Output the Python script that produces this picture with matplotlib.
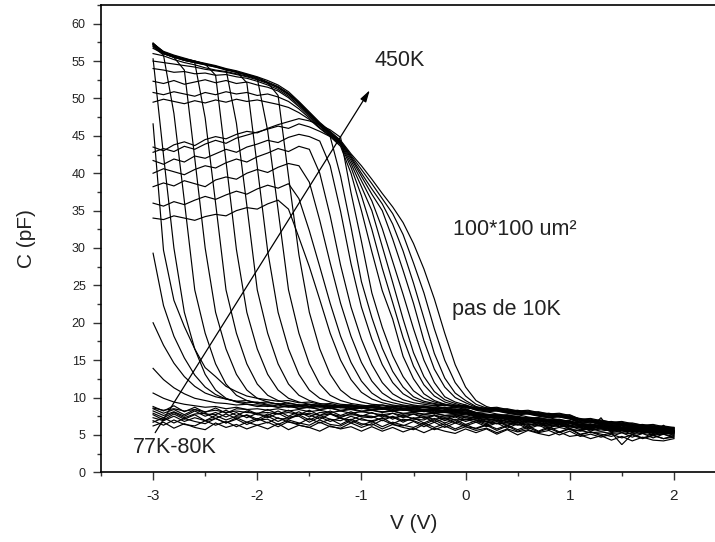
import matplotlib
matplotlib.use("Agg")
import matplotlib.pyplot as plt
from matplotlib.ticker import MultipleLocator

plt.rcParams['font.family'] = ['Liberation Sans', 'DejaVu Sans']

# tension de balayage (V)
volts = [-3.0, -2.9, -2.8, -2.7, -2.6, -2.5, -2.4, -2.3, -2.2, -2.1, -2.0,
         -1.9, -1.8, -1.7, -1.6, -1.5, -1.4, -1.3, -1.2, -1.1, -1.0,
         -0.9, -0.8, -0.7, -0.6, -0.5, -0.4, -0.3, -0.2, -0.1, 0.0,
         0.1, 0.2, 0.3, 0.4, 0.5, 0.6, 0.7, 0.8, 0.9, 1.0,
         1.1, 1.2, 1.3, 1.4, 1.5, 1.6, 1.7, 1.8, 1.9, 2.0]

# basses temperatures : courbes plates (pF)
cold_1 = [6.2, 6.7, 5.9, 6.5, 6.0, 5.7, 6.6, 6.0, 6.4, 5.8, 6.3,
          5.8, 6.5, 5.7, 6.3, 6.0, 5.5, 6.2, 5.8, 6.1, 5.5,
          6.1, 5.5, 6.0, 5.4, 5.9, 5.3, 5.9, 5.5, 5.2, 5.8,
          5.3, 5.8, 5.1, 5.7, 5.0, 5.6, 5.2, 4.9, 5.4, 4.8,
          5.0, 4.5, 4.9, 4.3, 4.8, 4.2, 4.7, 4.3, 4.2, 4.5]
cold_2 = [6.9, 6.3, 7.0, 6.4, 6.2, 6.9, 6.3, 6.8, 6.1, 6.7, 6.3,
          6.7, 6.1, 6.8, 6.3, 6.0, 6.7, 6.1, 5.9, 6.6, 6.0,
          6.5, 5.8, 6.4, 6.0, 5.7, 6.4, 5.7, 6.2, 5.6, 6.1,
          5.6, 5.9, 5.3, 5.8, 5.4, 5.7, 5.3, 5.6, 5.0, 5.5,
          4.8, 5.1, 4.7, 5.1, 4.6, 5.0, 4.5, 4.9, 4.5, 4.7]
cold_3 = [6.7, 7.3, 6.6, 7.2, 6.8, 6.5, 7.2, 6.6, 7.1, 6.4, 7.0,
          7.1, 6.4, 7.0, 6.6, 6.3, 7.0, 6.4, 6.2, 6.9, 6.3,
          6.8, 6.1, 6.7, 6.3, 6.0, 6.6, 6.0, 6.5, 5.8, 6.4,
          5.8, 6.3, 5.6, 6.2, 5.5, 6.0, 5.4, 5.9, 5.3, 5.8,
          5.0, 5.4, 4.9, 5.3, 3.7, 5.1, 4.6, 5.0, 4.5, 4.9]
cold_4 = [7.3, 6.9, 7.5, 6.8, 7.3, 6.9, 7.2, 6.6, 7.3, 6.7, 7.2,
          6.6, 7.3, 6.7, 6.5, 7.2, 6.6, 7.1, 6.4, 7.1, 6.5,
          6.3, 7.0, 6.4, 6.2, 6.8, 6.1, 6.7, 6.0, 6.6, 6.1,
          5.9, 6.4, 5.8, 6.3, 5.7, 6.2, 5.5, 6.1, 5.4, 5.9,
          5.1, 5.4, 5.1, 4.8, 5.3, 4.7, 5.2, 4.6, 5.1, 4.6]
cold_5 = [7.7, 7.0, 7.8, 7.1, 7.7, 6.9, 7.6, 7.0, 7.5, 7.6, 6.9,
          7.5, 6.8, 7.4, 7.5, 6.7, 7.4, 6.8, 7.3, 6.6, 7.2,
          6.7, 7.3, 6.5, 7.1, 6.9, 6.4, 7.0, 6.3, 6.9, 6.2,
          6.7, 6.1, 6.6, 5.9, 6.5, 5.8, 6.3, 5.7, 6.0, 5.7,
          5.6, 5.3, 5.4, 5.2, 5.3, 5.1, 5.2, 5.0, 5.1, 4.8]
cold_6 = [7.9, 7.3, 8.0, 7.3, 7.8, 7.9, 7.2, 7.8, 7.2, 7.7, 7.1,
          7.8, 7.2, 7.1, 7.7, 7.0, 7.6, 7.1, 6.9, 7.5, 7.0,
          6.9, 7.2, 7.4, 6.7, 7.3, 6.6, 7.2, 6.6, 7.1, 6.4,
          6.9, 6.3, 6.8, 6.2, 6.7, 6.0, 6.5, 5.9, 6.4, 5.8,
          5.5, 5.9, 7.3, 5.3, 5.6, 5.1, 5.6, 5.0, 5.5, 4.9]
cold_7 = [8.2, 7.6, 8.1, 7.5, 8.2, 7.5, 8.0, 7.4, 8.0, 7.3, 7.9,
          7.3, 7.9, 7.2, 7.8, 7.7, 7.1, 7.8, 7.2, 7.0, 7.6,
          7.5, 6.9, 7.5, 6.9, 7.2, 7.4, 6.7, 7.2, 6.6, 7.1,
          7.0, 6.5, 7.0, 6.3, 6.8, 6.2, 6.7, 6.0, 6.5, 5.9,
          6.1, 5.5, 6.0, 5.4, 5.9, 5.3, 5.8, 5.2, 6.3, 5.1]
cold_8 = [8.5, 7.9, 8.4, 7.7, 8.4, 7.8, 7.7, 8.3, 7.6, 8.2, 7.7,
          7.6, 8.2, 7.5, 8.1, 7.4, 8.0, 7.9, 7.3, 7.9, 7.4,
          7.3, 7.8, 7.1, 7.7, 7.1, 7.0, 7.6, 6.9, 7.4, 6.8,
          7.2, 6.7, 6.5, 7.1, 6.4, 6.9, 6.3, 6.8, 6.2, 6.5,
          6.3, 5.7, 6.2, 5.6, 5.9, 5.6, 5.8, 5.5, 5.7, 5.4]
cold_9 = [8.8, 8.2, 8.9, 8.1, 8.7, 8.0, 8.6, 7.9, 8.5, 8.4, 7.8,
          8.4, 7.8, 8.3, 7.7, 8.3, 7.6, 8.2, 7.6, 8.1, 7.5,
          8.0, 7.4, 7.9, 7.3, 7.8, 7.2, 7.7, 7.1, 7.6, 7.0,
          7.4, 6.8, 7.3, 6.7, 7.0, 6.7, 6.9, 6.4, 6.9, 6.3,
          6.4, 5.8, 6.3, 5.7, 6.2, 5.6, 6.1, 5.5, 6.0, 5.4]

# queues de descente visibles a -3 V
tail_1 = [8.6, 8.3, 8.5, 8.2, 8.4, 8.1, 8.3, 8.0, 8.2, 8.0, 7.9,
          8.0, 7.8, 8.0, 7.7, 7.9, 7.6, 7.8, 7.5, 7.7, 7.6,
          7.4, 7.6, 7.3, 7.5, 7.2, 7.4, 7.1, 7.3, 7.0, 7.1,
          6.7, 6.8, 6.5, 6.6, 6.3, 6.5, 6.2, 6.3, 6.1, 6.2,
          5.7, 5.8, 5.5, 5.7, 5.4, 5.5, 5.3, 5.4, 5.2, 5.3]
tail_2 = [10.6, 9.9, 9.4, 9.1, 8.9, 8.7, 8.8, 8.5, 8.7, 8.4, 8.5,
          8.3, 8.5, 8.2, 8.4, 8.1, 8.3, 8.0, 8.2, 7.9, 8.1,
          7.9, 7.7, 7.9, 7.6, 7.8, 7.5, 7.6, 7.4, 7.5, 7.3,
          7.0, 6.8, 6.9, 6.6, 6.7, 6.4, 6.5, 6.3, 6.4, 6.1,
          5.9, 5.7, 5.8, 5.5, 5.6, 5.4, 5.5, 5.3, 5.4, 5.2]
tail_3 = [13.9, 12.4, 11.3, 10.5, 9.9, 9.6, 9.3, 9.2, 9.0, 9.1, 8.8,
          8.9, 8.7, 8.8, 8.6, 8.7, 8.4, 8.6, 8.3, 8.5, 8.2,
          8.3, 8.1, 8.2, 7.9, 8.0, 7.8, 7.9, 7.6, 7.7, 7.5,
          7.2, 7.1, 6.9, 7.0, 6.7, 6.8, 6.6, 6.5, 6.6, 6.3,
          6.1, 5.9, 6.0, 5.7, 5.8, 5.6, 5.7, 5.4, 5.5, 5.3]
tail_4 = [20.0, 17.0, 14.6, 12.8, 11.5, 10.6, 10.1, 9.8, 9.5, 9.6, 9.3,
          9.4, 9.1, 9.3, 9.0, 9.1, 8.8, 9.0, 8.7, 8.9, 8.6,
          8.7, 8.5, 8.6, 8.3, 8.5, 8.2, 8.3, 8.0, 8.1, 7.9,
          7.5, 7.3, 7.4, 7.1, 7.2, 6.9, 7.0, 6.7, 6.8, 6.6,
          6.2, 6.3, 6.0, 6.1, 5.8, 5.9, 5.7, 5.8, 5.5, 5.6]
drop_1 = [29.3, 22.3, 18.2, 15.3, 13.0, 11.4, 10.4, 9.8, 9.5, 9.3, 9.4,
          9.1, 9.2, 8.9, 9.0, 8.8, 8.9, 8.6, 8.8, 8.5, 8.6,
          8.4, 8.5, 8.2, 8.4, 8.1, 8.2, 7.9, 8.0, 7.8, 7.7,
          7.4, 7.2, 7.3, 7.0, 7.1, 6.8, 6.9, 6.7, 6.5, 6.6,
          6.1, 6.2, 5.9, 6.0, 5.8, 5.6, 5.7, 5.5, 5.6, 5.4]
drop_2 = [46.6, 29.7, 23.0, 19.5, 16.5, 14.0, 12.8, 11.5, 10.8, 10.2, 9.9,
          9.7, 9.5, 9.6, 9.3, 9.4, 9.1, 9.2, 8.9, 9.0, 8.8,
          8.9, 8.6, 8.7, 8.5, 8.6, 8.3, 8.4, 8.2, 8.3, 8.0,
          7.7, 7.5, 7.6, 7.3, 7.4, 7.1, 7.2, 6.9, 7.0, 6.7,
          6.4, 6.5, 6.2, 6.3, 6.0, 6.1, 5.8, 5.9, 5.7, 5.8]

# courbes qui suivent l'enveloppe haute puis chutent
env_1 = [55.3, 42.4, 30.0, 21.4, 16.5, 13.1, 11.0, 9.9, 9.4, 9.1, 9.0,
         8.8, 9.0, 8.7, 8.9, 8.6, 8.8, 8.5, 8.7, 8.4, 8.6,
         8.3, 8.5, 8.2, 8.4, 8.1, 8.2, 7.9, 8.1, 7.8, 7.9,
         7.5, 7.3, 7.4, 7.1, 7.2, 6.9, 7.0, 6.7, 6.8, 6.6,
         6.2, 6.0, 6.1, 5.8, 5.9, 5.6, 5.7, 5.5, 5.4, 5.5]
env_2 = [56.9, 55.8, 48.0, 36.3, 24.4, 18.6, 14.5, 11.8, 10.3, 9.6, 9.2,
         9.0, 8.7, 8.9, 8.5, 8.7, 8.4, 8.6, 8.2, 8.4, 8.1,
         8.3, 8.0, 8.2, 7.8, 8.0, 7.7, 7.9, 7.6, 7.7, 7.4,
         7.3, 7.0, 7.1, 6.8, 6.9, 6.6, 6.7, 6.4, 6.5, 6.2,
         6.0, 5.7, 5.8, 5.6, 5.7, 5.4, 5.5, 5.2, 5.3, 5.1]
env_3 = [57.0, 56.0, 55.5, 53.8, 42.0, 30.0, 21.4, 16.5, 13.1, 11.0, 9.9,
         9.4, 9.1, 9.0, 8.8, 9.0, 8.7, 8.9, 8.6, 8.8, 8.5,
         8.7, 8.4, 8.6, 8.3, 8.4, 8.1, 8.3, 8.0, 8.1, 7.8,
         7.7, 7.4, 7.5, 7.2, 7.3, 7.0, 7.1, 6.8, 6.9, 6.6,
         6.4, 6.1, 6.2, 5.9, 6.0, 5.7, 5.8, 5.5, 5.6, 5.4]
env_4 = [57.2, 56.1, 55.6, 55.1, 54.8, 47.4, 36.0, 24.4, 18.6, 14.5, 11.8,
         10.3, 9.6, 9.2, 9.0, 8.8, 9.0, 8.7, 8.9, 8.6, 8.7,
         8.4, 8.6, 8.3, 8.5, 8.2, 8.3, 8.0, 8.2, 7.9, 8.0,
         7.6, 7.4, 7.2, 7.3, 7.0, 7.1, 6.8, 6.9, 6.6, 6.7,
         6.1, 6.2, 5.9, 6.0, 5.7, 5.8, 5.5, 5.6, 5.3, 5.4]
env_5 = [57.3, 56.3, 55.8, 55.4, 55.0, 54.6, 53.1, 41.6, 29.8, 21.4, 16.5,
         13.1, 11.0, 9.9, 9.4, 9.1, 9.0, 8.8, 9.0, 8.7, 8.9,
         8.6, 8.7, 8.4, 8.6, 8.3, 8.4, 8.1, 8.3, 8.0, 8.1,
         7.6, 7.7, 7.4, 7.5, 7.2, 7.3, 7.0, 7.1, 6.8, 6.9,
         6.3, 6.4, 6.1, 6.2, 5.9, 6.0, 5.7, 5.8, 5.5, 5.6]
env_6 = [57.1, 56.0, 55.6, 55.2, 54.9, 54.6, 54.3, 53.9, 46.7, 35.7, 24.4,
         18.6, 14.5, 11.8, 10.3, 9.6, 9.2, 9.0, 8.8, 9.0, 8.7,
         8.9, 8.6, 8.7, 8.4, 8.6, 8.3, 8.4, 8.1, 8.2, 7.9,
         7.5, 7.6, 7.3, 7.4, 7.1, 7.2, 6.9, 7.0, 6.7, 6.8,
         6.2, 6.3, 6.0, 6.1, 5.8, 5.9, 5.6, 5.7, 5.4, 5.5]
env_7 = [57.4, 56.2, 55.7, 55.3, 55.0, 54.6, 54.3, 53.9, 53.6, 52.1, 40.9,
         29.6, 21.4, 16.5, 13.1, 11.0, 9.9, 9.4, 9.1, 9.0, 8.8,
         9.0, 8.7, 8.9, 8.6, 8.7, 8.4, 8.5, 8.2, 8.3, 8.0,
         7.9, 7.6, 7.7, 7.4, 7.5, 7.2, 7.3, 7.0, 7.1, 6.8,
         6.6, 6.3, 6.4, 6.1, 6.2, 5.9, 6.0, 5.7, 5.8, 5.5]
env_8 = [57.2, 56.0, 55.5, 55.1, 54.8, 54.5, 54.2, 53.8, 53.5, 53.1, 52.7,
         45.7, 35.1, 24.4, 18.6, 14.5, 11.8, 10.3, 9.6, 9.2, 9.0,
         8.8, 9.0, 8.7, 8.8, 8.5, 8.7, 8.4, 8.5, 8.2, 8.3,
         7.8, 7.6, 7.7, 7.3, 7.4, 7.1, 7.2, 6.9, 6.8, 6.6,
         6.4, 6.1, 6.2, 5.9, 5.8, 5.6, 5.7, 5.4, 5.3, 5.2]
env_9 = [57.3, 56.1, 55.6, 55.2, 54.9, 54.6, 54.3, 53.9, 53.6, 53.2, 52.8,
         52.1, 50.4, 39.6, 29.1, 21.4, 16.5, 13.1, 11.0, 9.9, 9.4,
         9.1, 9.0, 8.8, 8.9, 8.6, 8.8, 8.5, 8.6, 8.3, 8.4,
         7.9, 7.7, 7.5, 7.6, 7.3, 7.1, 7.2, 6.9, 6.7, 6.8,
         6.2, 6.0, 6.1, 5.8, 5.7, 5.5, 5.6, 5.3, 5.2, 5.1]

# courbes du faisceau intermediaire (plateau bruite 34-47 pF)
band_1 = [34.0, 33.8, 34.3, 34.0, 33.7, 34.2, 34.5, 34.3, 35.0, 35.4, 35.2,
          35.9, 36.4, 35.2, 31.4, 27.5, 23.1, 18.6, 15.0, 12.4, 10.7,
          9.8, 9.3, 9.0, 8.8, 8.9, 8.6, 8.7, 8.4, 8.5, 8.2,
          7.8, 7.6, 7.7, 7.4, 7.2, 7.3, 7.0, 6.8, 6.9, 6.6,
          6.2, 6.0, 6.1, 5.8, 5.9, 5.6, 5.7, 5.5, 5.4, 5.5]
band_2 = [36.0, 35.6, 36.2, 35.8, 36.4, 36.9, 36.5, 37.1, 37.6, 37.2, 37.9,
          38.4, 38.0, 38.6, 36.6, 32.3, 27.5, 22.6, 18.2, 14.7, 12.2,
          10.6, 9.7, 9.3, 9.0, 8.8, 8.9, 8.6, 8.7, 8.4, 8.5,
          8.0, 7.8, 7.6, 7.7, 7.4, 7.2, 7.3, 7.0, 6.8, 6.9,
          6.3, 6.4, 6.1, 5.9, 6.0, 5.7, 5.8, 5.5, 5.6, 5.4]
band_3 = [38.2, 38.7, 38.3, 39.0, 38.6, 38.2, 39.1, 39.5, 39.2, 40.0, 40.5,
          40.1, 40.8, 41.3, 41.0, 38.8, 33.7, 28.0, 22.6, 18.2, 14.7,
          12.2, 10.6, 9.7, 9.3, 9.0, 8.8, 8.9, 8.6, 8.7, 8.4,
          8.0, 8.1, 7.8, 7.6, 7.7, 7.4, 7.2, 7.3, 7.0, 6.8,
          6.6, 6.3, 6.1, 6.2, 5.9, 6.0, 5.7, 5.5, 5.6, 5.4]
band_4 = [40.0, 40.6, 40.2, 39.8, 40.5, 41.0, 40.7, 41.4, 41.9, 41.5, 42.2,
          42.7, 43.3, 42.9, 43.6, 43.2, 40.0, 34.3, 27.7, 22.1, 17.8,
          14.4, 12.0, 10.5, 9.7, 9.3, 9.1, 8.9, 9.0, 8.7, 8.8,
          8.3, 8.1, 8.2, 7.9, 7.7, 7.8, 7.5, 7.3, 7.4, 7.1,
          6.6, 6.7, 6.4, 6.2, 6.3, 6.0, 5.8, 5.9, 5.6, 5.7]
band_5 = [41.7, 41.2, 41.9, 41.5, 42.3, 42.0, 42.6, 43.2, 42.8, 43.5, 43.9,
          44.4, 44.1, 44.8, 45.2, 44.9, 44.3, 41.0, 34.9, 27.9, 22.1,
          17.8, 14.4, 12.0, 10.5, 9.7, 9.3, 9.1, 8.9, 9.0, 8.7,
          8.4, 8.2, 8.3, 8.0, 7.8, 7.9, 7.6, 7.4, 7.5, 7.2,
          6.7, 6.8, 6.5, 6.3, 6.4, 6.1, 5.9, 6.0, 5.7, 5.6]
band_6 = [42.8, 43.3, 42.9, 43.6, 43.2, 43.9, 44.4, 44.0, 44.7, 45.1, 45.5,
          45.9, 46.3, 46.0, 46.6, 46.2, 45.6, 44.9, 39.6, 32.8, 25.5,
          20.7, 16.6, 13.5, 11.4, 10.1, 9.5, 9.2, 9.0, 8.8, 8.9,
          8.4, 8.5, 8.2, 8.0, 8.1, 7.8, 7.6, 7.7, 7.4, 7.2,
          7.0, 6.7, 6.5, 6.6, 6.3, 6.1, 6.2, 5.9, 5.7, 5.8]
band_7 = [43.5, 43.0, 43.8, 44.2, 43.7, 44.5, 44.9, 44.6, 45.2, 45.6, 45.4,
          46.0, 46.5, 46.9, 47.3, 47.0, 46.5, 45.8, 44.8, 37.4, 30.9,
          24.0, 19.4, 15.6, 12.8, 10.9, 9.9, 9.4, 9.1, 8.9, 9.0,
          8.5, 8.6, 8.3, 8.1, 8.2, 7.9, 7.7, 7.8, 7.5, 7.3,
          7.1, 6.8, 6.6, 6.7, 6.4, 6.2, 6.3, 6.0, 5.8, 5.9]

# hautes temperatures : chute entre -1 V et 0 V (top_8 = 450K)
top_1 = [49.5, 49.9, 49.6, 49.3, 49.7, 49.4, 49.8, 49.5, 49.9, 49.6, 49.8,
         49.5, 49.2, 48.8, 48.1, 47.2, 46.0, 44.9, 43.6, 40.0, 35.0,
         29.5, 24.3, 20.5, 15.5, 12.5, 10.5, 9.6, 9.1, 8.8, 8.6,
         8.5, 8.2, 8.3, 8.0, 7.8, 7.9, 7.6, 7.4, 7.5, 7.2,
         6.7, 6.8, 6.5, 6.3, 6.4, 6.1, 5.9, 6.0, 5.7, 5.5]
top_2 = [50.8, 50.5, 50.9, 50.6, 50.3, 50.8, 50.5, 50.9, 50.6, 50.8, 50.4,
         50.6, 50.2, 49.6, 48.6, 47.4, 46.1, 45.0, 43.8, 40.8, 37.0,
         32.5, 27.3, 22.7, 18.0, 14.2, 11.7, 10.2, 9.4, 9.0, 8.7,
         8.6, 8.3, 8.4, 8.1, 7.9, 8.0, 7.7, 7.5, 7.6, 7.3,
         6.8, 6.9, 6.6, 6.4, 6.5, 6.2, 6.0, 6.1, 5.8, 5.6]
top_3 = [52.3, 52.0, 52.4, 51.9, 52.2, 52.5, 52.1, 52.4, 52.0, 52.2, 51.8,
         51.5, 51.0, 50.1, 48.9, 47.6, 46.3, 45.1, 43.9, 41.3, 38.2,
         35.0, 30.2, 25.4, 20.5, 16.0, 12.8, 10.8, 9.7, 9.2, 8.8,
         8.7, 8.4, 8.5, 8.2, 8.0, 8.1, 7.8, 7.6, 7.7, 7.4,
         6.9, 7.0, 6.7, 6.5, 6.6, 6.3, 6.1, 6.2, 5.9, 5.7]
top_4 = [54.0, 53.8, 53.5, 53.6, 53.3, 53.4, 53.1, 53.2, 52.9, 52.7, 52.3,
         51.8, 51.2, 50.3, 49.1, 47.8, 46.4, 45.2, 44.0, 41.7, 39.0,
         36.3, 32.6, 28.2, 23.8, 19.2, 15.0, 12.0, 10.1, 9.4, 9.0,
         8.5, 8.6, 8.3, 8.1, 8.2, 7.9, 7.7, 7.8, 7.5, 7.3,
         7.1, 6.8, 6.6, 6.7, 6.4, 6.2, 6.3, 6.0, 5.8, 5.9]
top_5 = [55.0, 54.8, 54.6, 54.4, 54.2, 53.9, 53.7, 53.5, 53.2, 52.9, 52.5,
         52.0, 51.4, 50.5, 49.3, 47.9, 46.5, 45.3, 44.1, 42.0, 39.6,
         37.2, 35.0, 31.2, 27.0, 22.6, 17.6, 13.8, 11.4, 10.0, 9.3,
         8.7, 8.4, 8.5, 8.2, 8.3, 8.0, 7.8, 7.9, 7.6, 7.4,
         7.2, 6.9, 6.7, 6.8, 6.5, 6.3, 6.4, 6.1, 5.9, 6.0]
top_6 = [56.0, 55.7, 55.2, 54.8, 54.5, 54.1, 53.8, 53.6, 53.3, 53.0, 52.6,
         52.1, 51.5, 50.6, 49.4, 48.0, 46.6, 45.4, 44.2, 42.2, 40.0,
         37.9, 35.9, 33.2, 29.6, 25.3, 20.6, 15.9, 12.6, 10.6, 9.6,
         8.8, 8.5, 8.6, 8.3, 8.1, 8.2, 7.9, 7.7, 7.8, 7.5,
         7.0, 7.1, 6.8, 6.6, 6.7, 6.4, 6.2, 6.3, 6.0, 5.8]
top_7 = [56.7, 56.0, 55.5, 55.1, 54.8, 54.5, 54.2, 53.9, 53.5, 53.2, 52.8,
         52.2, 51.6, 50.7, 49.5, 48.1, 46.7, 45.5, 44.3, 42.4, 40.5,
         38.6, 36.6, 34.6, 31.8, 28.0, 24.0, 19.2, 15.0, 12.0, 10.2,
         9.1, 8.6, 8.7, 8.4, 8.2, 8.3, 8.0, 7.8, 7.9, 7.6,
         7.1, 7.2, 6.9, 6.7, 6.8, 6.5, 6.3, 6.4, 6.1, 5.9]
top_8 = [57.4, 56.2, 55.7, 55.3, 55.0, 54.7, 54.4, 54.0, 53.7, 53.3, 52.9,
         52.4, 51.8, 50.9, 49.6, 48.2, 46.8, 45.6, 44.4, 42.6, 41.0,
         39.2, 37.3, 35.5, 33.4, 30.6, 27.2, 23.2, 18.6, 14.4, 11.4,
         9.6, 8.8, 8.4, 8.5, 8.2, 8.0, 8.1, 7.8, 7.6, 7.7,
         7.1, 6.9, 7.0, 6.7, 6.5, 6.6, 6.3, 6.1, 6.2, 6.0]

curves = [cold_1, cold_2, cold_3, cold_4, cold_5, cold_6, cold_7, cold_8, cold_9,
          tail_1, tail_2, tail_3, tail_4, drop_1, drop_2,
          env_1, env_2, env_3, env_4, env_5, env_6, env_7, env_8, env_9,
          band_1, band_2, band_3, band_4, band_5, band_6, band_7,
          top_1, top_2, top_3, top_4, top_5, top_6, top_7, top_8]

fig = plt.figure(figsize=(7.15, 5.42), dpi=100)
# l'axe x continue au-dela du bord droit de l'image
ax = fig.add_axes([101 / 715, 69.7 / 542, 625 / 715, 467.3 / 542])

for c in curves:
    ax.plot(volts, c, color='black', lw=0.85, solid_joinstyle='miter')

ax.set_xlim(-3.5, 2.5)
ax.set_ylim(0, 62.5)

ax.xaxis.set_major_locator(MultipleLocator(1))
ax.xaxis.set_minor_locator(MultipleLocator(0.5))
ax.yaxis.set_major_locator(MultipleLocator(5))
ax.yaxis.set_minor_locator(MultipleLocator(2.5))
ax.xaxis.set_major_formatter(plt.FuncFormatter(lambda v, p: '%d' % round(v)))
ax.yaxis.set_major_formatter(plt.FuncFormatter(lambda v, p: '%d' % round(v)))

ax.tick_params(which='both', direction='out', top=False, right=False, color='#333')
ax.tick_params(which='major', length=6, width=1.0)
ax.tick_params(which='minor', length=3, width=1.0)
ax.tick_params(axis='x', labelsize=11, pad=6, labelcolor='#222')
ax.tick_params(axis='y', labelsize=9, pad=5, labelcolor='#222')

for side in ['left', 'bottom', 'top']:
    ax.spines[side].set_linewidth(1.2)
ax.spines['right'].set_visible(False)

ax.set_xlabel('V (V)', fontsize=15, color='#222', labelpad=8)
ax.set_ylabel('C (pF)', fontsize=15, color='#222', labelpad=26)

# annotations
ax.annotate('', xy=(-0.92, 51.1), xytext=(-2.98, 5.3),
            arrowprops=dict(arrowstyle='-|>,head_length=0.7,head_width=0.2',
                            color='black', lw=0.9, shrinkA=0, shrinkB=0))
txt = dict(fontsize=15.5, color='#222', ha='left', va='center')
ax.text(-0.87, 55.1, '450K', **txt)
ax.text(-0.12, 32.5, '100*100 um²', **txt)
ax.text(-0.13, 21.8, 'pas de 10K', **txt)
ax.text(-3.19, 3.3, '77K-80K', **txt)

fig.savefig('out.png', dpi=100)
